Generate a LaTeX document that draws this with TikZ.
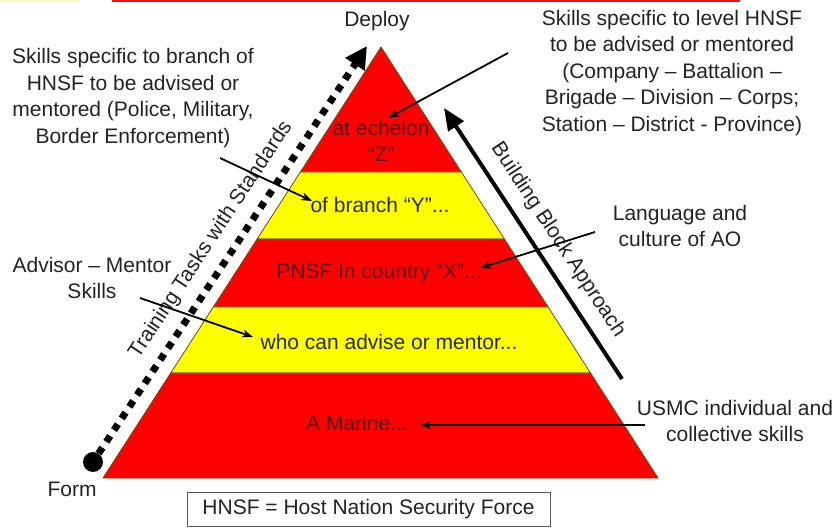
\documentclass[tikz,border=0pt]{standalone}
\usepackage{fontspec}
\setmainfont{Liberation Sans}
\usetikzlibrary{arrows.meta,calc}

\definecolor{pyred}{RGB}{255,0,0}
\definecolor{pyyellow}{RGB}{255,255,0}
\definecolor{edge}{RGB}{120,70,0}
\definecolor{onred}{RGB}{85,5,5}
\definecolor{onyellow}{RGB}{40,40,10}
\definecolor{ink}{RGB}{35,35,35}
\definecolor{headred}{RGB}{230,20,20}

\begin{document}
\begin{tikzpicture}[x=1pt,y=-1pt,
  txt/.style={inner sep=0pt, align=center, text=ink, font=\fontsize{21}{26.5}\selectfont},
  redtxt/.style={txt, text=onred},
  yeltxt/.style={txt, text=onyellow},
  band/.style={draw=edge, line width=0.8pt},
  pointer/.style={draw=black, line width=1.8pt, -{Stealth[length=11pt,width=8pt]}},
  dotline/.style={draw=black, line width=7pt, dash pattern=on 7pt off 7pt,
    -{Triangle[length=22pt,width=22pt]}},
  buildarrow/.style={draw=black, line width=4pt, -{Triangle[length=22pt,width=18pt]}},
]
\useasboundingbox (0,0) rectangle (836,529);
\fill[white] (0,0) rectangle (836,529);

% header rule
\draw[yellow!25, line width=2pt] (0,1) -- (80,1);
\draw[headred, line width=2pt] (112,1) -- (740,1);

% pyramid frame
\coordinate (apex) at (381,47);
\coordinate (bl) at (103,478);
\coordinate (br) at (658,478);
\coordinate (l1) at ($(apex)!0.2900!(bl)$);
\coordinate (r1) at ($(apex)!0.2900!(br)$);
\coordinate (l2) at ($(apex)!0.4455!(bl)$);
\coordinate (r2) at ($(apex)!0.4455!(br)$);
\coordinate (l3) at ($(apex)!0.6032!(bl)$);
\coordinate (r3) at ($(apex)!0.6032!(br)$);
\coordinate (l4) at ($(apex)!0.7564!(bl)$);
\coordinate (r4) at ($(apex)!0.7564!(br)$);

% pyramid bands, top to bottom
\filldraw[band, fill=pyred] (apex) -- (r1) -- (l1) -- cycle;
\filldraw[band, fill=pyyellow] (l1) -- (r1) -- (r2) -- (l2) -- cycle;
\filldraw[band, fill=pyred] (l2) -- (r2) -- (r3) -- (l3) -- cycle;
\filldraw[band, fill=pyyellow] (l3) -- (r3) -- (r4) -- (l4) -- cycle;
\filldraw[band, fill=pyred] (l4) -- (r4) -- (br) -- (bl) -- cycle;

% band texts
\node[redtxt] (tz) at (381,141) {at echelon\\“Z”};
\node[yeltxt] (ty) at (380,205) {of branch “Y”...};
\node[redtxt] (tx) at (379,273) {PNSF In country “X”...};
\node[yeltxt] (tw) at (389,342) {who can advise or mentor...};
\node[redtxt] (tm) at (357,423) {A Marine...};

% end labels
\node[txt] (deploy) at (377,21) {Deploy};
\node[txt] (form) at (72,489) {Form};

% dotted training arrow
\node[circle, fill=black, inner sep=0pt, minimum size=20pt] (formdot) at (93,462) {};
\coordinate (trainTip) at (367,46);
\draw[dotline] (formdot) -- (trainTip);
\node[txt, rotate=56.6] (training) at (211,240) {Training Tasks with Standards};

% building block arrow
\coordinate (buildTail) at (622,379);
\coordinate (buildTip) at (444,108);
\draw[buildarrow] (buildTail) -- (buildTip);
\node[txt, rotate=-56.7] (building) at (558,240) {Building Block Approach};

% annotations
\node[txt] (skillsBranch) at (133,98) {Skills specific to branch of\\HNSF to be advised or\\mentored (Police, Military,\\Border Enforcement)};
\node[txt] (skillsLevel) at (672,73) {Skills specific to level HNSF\\to be advised or mentored\\(Company – Battalion –\\Brigade – Division – Corps;\\Station – District - Province)};
\node[txt] (language) at (680,226) {Language and\\culture of AO};
\node[txt] (advisor) at (92,278) {Advisor – Mentor\\Skills};
\node[txt] (usmc) at (735,421) {USMC individual and\\collective skills};

% pointer lines
\coordinate (pLevelS) at (508,53);
\coordinate (pLevelT) at (388,118);
\coordinate (pBranchS) at (220,158);
\coordinate (pBranchT) at (312,201);
\coordinate (pLangS) at (595,232);
\coordinate (pLangT) at (480,268);
\coordinate (pAdvS) at (140,298);
\coordinate (pAdvT) at (253,337);
\coordinate (pUsmcS) at (645,425);
\coordinate (pUsmcT) at (420,425);
\draw[pointer] (pLevelS) -- (pLevelT);
\draw[pointer] (pBranchS) -- (pBranchT);
\draw[pointer] (pLangS) -- (pLangT);
\draw[pointer] (pAdvS) -- (pAdvT);
\draw[pointer] (pUsmcS) -- (pUsmcT);

% legend box
\node[txt, draw=gray!70!black, line width=1pt, minimum width=363pt, minimum height=34pt] (hnsf) at (368.5,509) {HNSF = Host Nation Security Force};
\end{tikzpicture}
\end{document}
